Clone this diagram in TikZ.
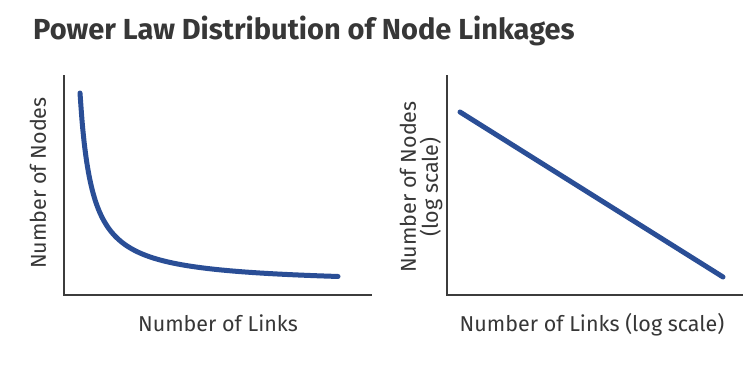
\documentclass[tikz,border=0pt]{standalone}
\usepackage{fontspec}
\setmainfont{Fira Sans}
\begin{document}
\begin{tikzpicture}[x=1pt,y=-1pt,
  axis/.style={draw=axisgray,line width=2.2pt},
  curve/.style={draw=curveblue,line width=5pt,line cap=round},
  lbl/.style={text=textgray,font=\fontsize{21.5}{22}\selectfont,inner sep=0pt},
  ttl/.style={text=textgray,font=\bfseries\fontsize{29}{32}\selectfont,inner sep=0pt,anchor=base west}]
\definecolor{axisgray}{RGB}{60,60,60}
\definecolor{curveblue}{RGB}{42,78,150}
\definecolor{textgray}{RGB}{55,55,55}
\useasboundingbox (0,0) rectangle (743,367);
\fill[white] (0,0) rectangle (743,367);
\node[ttl] (title) at (33,39) {Power Law Distribution of Node Linkages};
% left plot
\coordinate (lo) at (64,295);
\coordinate (ltop) at (64,75);
\coordinate (lright) at (372,295);
\draw[axis] (ltop) -- (lo) -- (lright);
\draw[curve] plot[domain=80:338,samples=120,smooth] (\x,{285-2304/(\x-68)});
\node[lbl] (lx) at (218,323) {Number of Links};
\node[lbl,rotate=90] (ly) at (38,183) {Number of Nodes};
% right plot
\coordinate (ro) at (447,295);
\coordinate (rtop) at (447,75);
\coordinate (rright) at (743,295);
\draw[axis] (rtop) -- (ro) -- (rright);
\coordinate (rs) at (460,112);
\coordinate (re) at (723,277);
\draw[curve] (rs) -- (re);
\node[lbl] (rx) at (592,325) {Number of Links (log scale)};
\node[lbl,rotate=90,align=center] (ry) at (421,187) {Number of Nodes\\(log scale)};
\end{tikzpicture}
\end{document}
